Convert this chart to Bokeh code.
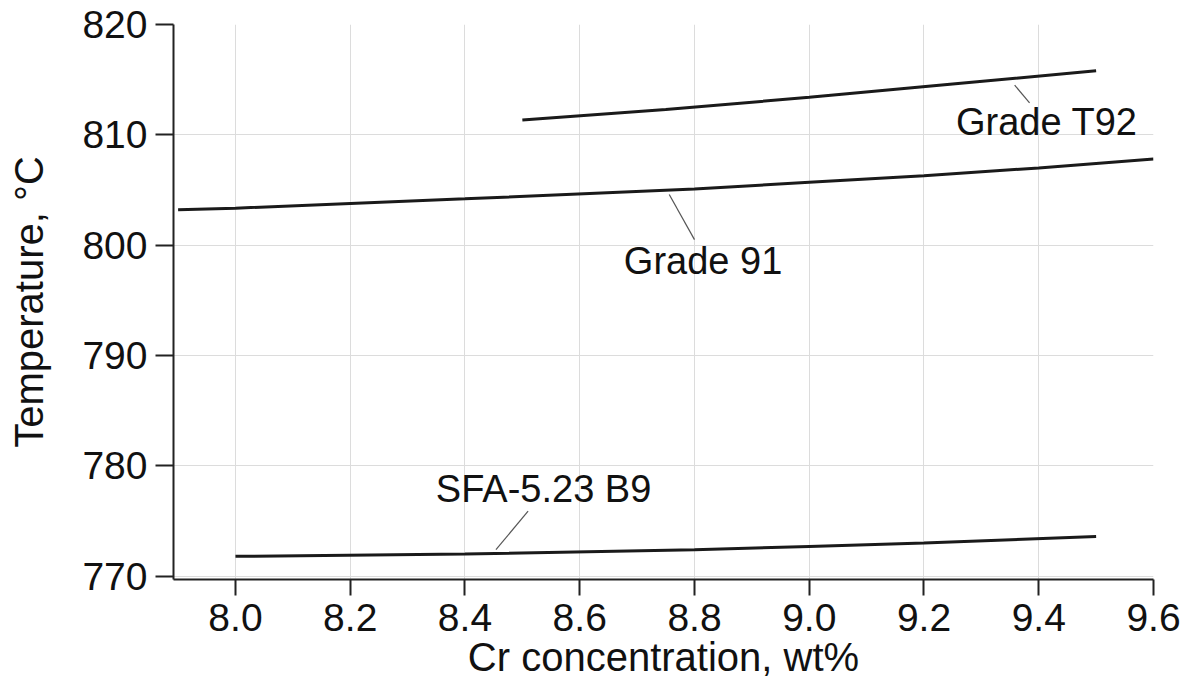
from bokeh.plotting import figure
from bokeh.models import Range1d, Label, FixedTicker, NumeralTickFormatter
from bokeh.embed import file_html
from bokeh.resources import INLINE

# Data
t92_cr = [8.5, 8.75, 9.0, 9.25, 9.5]
t92_temp = [811.35, 812.3, 813.4, 814.6, 815.8]

g91_cr = [7.9, 8.0, 8.4, 8.8, 9.0, 9.2, 9.4, 9.6]
g91_temp = [803.2, 803.35, 804.2, 805.1, 805.7, 806.3, 807.0, 807.8]

b9_cr = [8.0, 8.4, 8.8, 9.0, 9.2, 9.5]
b9_temp = [771.8, 772.0, 772.4, 772.7, 773.0, 773.6]

x_ticks = [8.0, 8.2, 8.4, 8.6, 8.8, 9.0, 9.2, 9.4, 9.6]
y_ticks = [770, 780, 790, 800, 810, 820]

labels = ["Grade T92", "Grade 91", "SFA-5.23 B9"]
label_x = [9.414, 8.815, 8.537]
label_y = [811.2, 798.6, 777.9]
leader_x0 = [9.358, 8.756, 8.51]
leader_y0 = [814.5, 804.6, 775.9]
leader_x1 = [9.384, 8.80, 8.454]
leader_y1 = [812.9, 800.5, 772.4]

FONT = "Liberation Sans"

p = figure(width=1191, height=686, output_backend="svg", toolbar_location=None,
           x_range=Range1d(7.892, 9.6), y_range=Range1d(769.7, 820))
p.min_border_left = 173
p.min_border_right = 38
p.min_border_top = 24
p.min_border_bottom = 107
p.outline_line_color = None
p.background_fill_color = "white"

p.xaxis.ticker = FixedTicker(ticks=x_ticks)
p.yaxis.ticker = FixedTicker(ticks=y_ticks)
p.xaxis.formatter = NumeralTickFormatter(format="0.0")
for ax in (p.xaxis, p.yaxis):
    ax.axis_line_width = 2
    ax.axis_line_color = "#222222"
    ax.major_tick_line_width = 2
    ax.major_tick_line_color = "#222222"
    ax.major_tick_in = 0
    ax.minor_tick_line_color = None
    ax.major_label_text_font = FONT
    ax.major_label_text_font_size = "39px"
    ax.major_label_text_color = "#111111"
    ax.axis_label_text_font = FONT
    ax.axis_label_text_font_size = "40px"
    ax.axis_label_text_font_style = "normal"
    ax.axis_label_text_color = "#111111"
p.xaxis.major_tick_out = 16
p.yaxis.major_tick_out = 18
p.xaxis.major_label_standoff = 8
p.yaxis.major_label_standoff = 8
p.xaxis.axis_label = "Cr concentration, wt%"
p.yaxis.axis_label = "Temperature, \u00b0C"
p.xaxis.axis_label_standoff = 1
p.yaxis.axis_label_standoff = 28

p.xgrid.ticker = FixedTicker(ticks=x_ticks)
p.ygrid.ticker = FixedTicker(ticks=y_ticks)
p.grid.grid_line_color = "#dcdcdc"
p.grid.grid_line_width = 1

p.line(t92_cr, t92_temp, line_color="#1a1a1a", line_width=3)
p.line(g91_cr, g91_temp, line_color="#1a1a1a", line_width=3)
p.line(b9_cr, b9_temp, line_color="#1a1a1a", line_width=3)

p.segment(x0=leader_x0, y0=leader_y0, x1=leader_x1, y1=leader_y1,
          line_color="#555555", line_width=1.2)

for t, x, y in zip(labels, label_x, label_y):
    p.add_layout(Label(x=x, y=y, text=t, text_font=FONT, text_font_size="38px",
                       text_color="#111111", text_align="center",
                       text_baseline="middle"))

open("out.html", "w").write(file_html(p, INLINE))
